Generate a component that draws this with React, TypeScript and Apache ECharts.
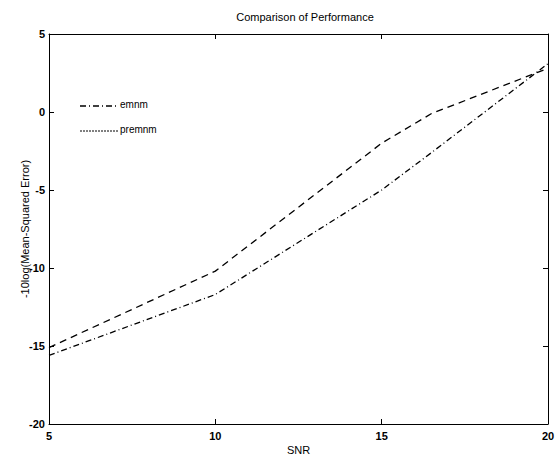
import React, { useEffect, useRef } from "react";
import * as echarts from "echarts";

const snr = [5, 10, 15, 16.5, 20];
const emnm = [-15.6, -11.7, -5.0, -2.6, 3.1];
const premnm = [-15.1, -10.2, -2.0, -0.1, 2.8];
const yTicks = [-20, -15, -10, -5, 0, 5];
const xTicks = [5, 10, 15, 20];

const FONT = "Liberation Sans";

export default function App() {
  const ref = useRef<HTMLDivElement>(null);
  useEffect(() => {
    if (!ref.current) return;
    const chart = echarts.init(ref.current, undefined, { renderer: "svg" });
    const axisCommon = {
      axisLine: { show: true, onZero: false, lineStyle: { color: "#000", width: 1 } },
      axisTick: { show: true, inside: true, length: 5, lineStyle: { color: "#000" } },
      splitLine: { show: false },
    };
    chart.setOption({
      animation: false,
      backgroundColor: "#fff",
      title: {
        text: "Comparison of Performance",
        left: 300,
        top: 6,
        textAlign: "center",
        textStyle: { fontFamily: FONT, fontSize: 11, fontWeight: "normal", color: "#000" },
      },
      grid: { left: 49, right: 11, top: 34, bottom: 33 },
      xAxis: [
        {
          type: "value",
          min: xTicks[0],
          max: xTicks[xTicks.length - 1],
          interval: 5,
          name: "SNR",
          nameLocation: "middle",
          nameGap: 20,
          nameMoveOverlap: false,
          nameTextStyle: { fontFamily: FONT, fontSize: 11, color: "#000" },
          axisLabel: { fontFamily: FONT, fontSize: 11, color: "#000", margin: 6, fontWeight: "bold" },
          ...axisCommon,
        },
        {
          type: "value",
          position: "top",
          min: xTicks[0],
          max: xTicks[xTicks.length - 1],
          interval: 5,
          axisLabel: { show: false },
          ...axisCommon,
        },
      ],
      yAxis: [
        {
          type: "value",
          min: yTicks[0],
          max: yTicks[yTicks.length - 1],
          interval: 5,
          name: "-10log(Mean-Squared Error)",
          nameLocation: "middle",
          nameGap: 19,
          nameMoveOverlap: false,
          nameTextStyle: { fontFamily: FONT, fontSize: 11, color: "#000" },
          axisLabel: { fontFamily: FONT, fontSize: 11, color: "#000", margin: 4, fontWeight: "bold" },
          ...axisCommon,
        },
        {
          type: "value",
          position: "right",
          min: yTicks[0],
          max: yTicks[yTicks.length - 1],
          interval: 5,
          axisLabel: { show: false },
          ...axisCommon,
        },
      ],
      series: [
        {
          name: "emnm",
          type: "line",
          data: snr.map((x, i) => [x, emnm[i]]),
          showSymbol: false,
          lineStyle: { color: "#000", width: 1.3, type: [6, 3, 1, 3] },
        },
        {
          name: "premnm",
          type: "line",
          data: snr.map((x, i) => [x, premnm[i]]),
          showSymbol: false,
          lineStyle: { color: "#000", width: 1.3, type: [7, 5] },
        },
      ],
      graphic: [
        {
          type: "line",
          shape: { x1: 80, y1: 106, x2: 118, y2: 106 },
          style: { stroke: "#000", lineWidth: 1.3, lineDash: [6, 3, 1, 3] },
        },
        {
          type: "text",
          x: 120,
          y: 99,
          style: { text: "emnm", fontFamily: FONT, fontSize: 10, fill: "#000" },
        },
        {
          type: "line",
          shape: { x1: 80, y1: 131, x2: 118, y2: 131 },
          style: { stroke: "#000", lineWidth: 1, lineDash: [2, 1] },
        },
        {
          type: "text",
          x: 120,
          y: 124,
          style: { text: "premnm", fontFamily: FONT, fontSize: 10, fill: "#000" },
        },
      ],
    });
    return () => chart.dispose();
  }, []);
  return <div ref={ref} style={{ width: 559, height: 460, position: "absolute", left: 0, top: 0 }} />;
}
